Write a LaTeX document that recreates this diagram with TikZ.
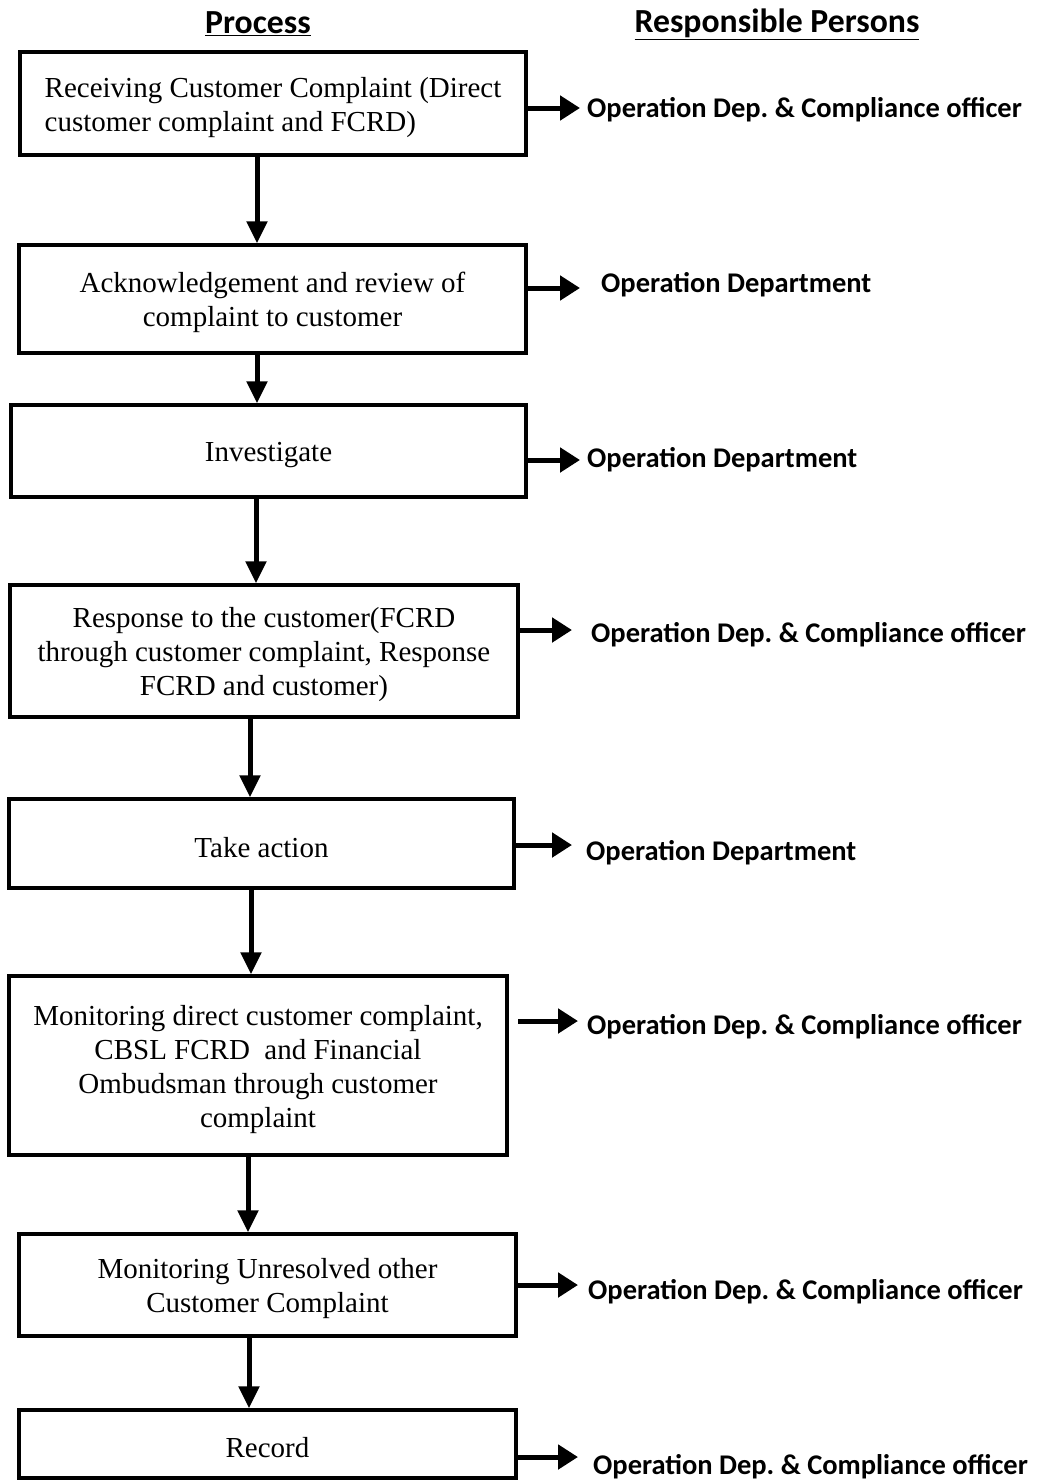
\documentclass[tikz,border=0pt]{standalone}
\usepackage{fontspec}
\setmainfont{Liberation Serif}
\newfontfamily\calib{Carlito}
\usetikzlibrary{arrows.meta}
\newcommand\tstrut{\rule{0pt}{28pt}}
\begin{document}
\begin{tikzpicture}[x=1pt,y=-1pt,
  procbox/.style={draw, line width=3.5pt, align=center, inner sep=0pt,
    font=\fontsize{29}{34}\selectfont},
  lab/.style={anchor=west, inner sep=0pt, font=\calib\bfseries\fontsize{28.5}{32}\selectfont},
  head/.style={inner sep=0pt, font=\calib\bfseries\fontsize{33.7}{38}\selectfont},
  darr/.style={line width=5pt, -{Triangle[length=22pt,width=20pt]}},
  rarr/.style={line width=5pt, -{Triangle[length=20pt,width=24pt]}}
]
\useasboundingbox (0,0) rectangle (1037,1480);

\node[head] (h1) at (258,24) {\underline{Process}};
\node[head] (h2) at (777,24) {\underline{Responsible Persons}};

\node[procbox, align=left, minimum width=506pt, minimum height=103pt] (b1) at (273,103.5)
  {\tstrut Receiving Customer Complaint (Direct\\customer complaint and FCRD)};
\node[procbox, minimum width=507pt, minimum height=108pt] (b2) at (272.5,299)
  {\tstrut Acknowledgement and review of\\complaint to customer};
\node[procbox, minimum width=515pt, minimum height=92pt] (b3) at (268.5,451)
  {\tstrut Investigate};
\node[procbox, minimum width=508pt, minimum height=132pt] (b4) at (264,651)
  {\tstrut Response to the customer(FCRD\\through customer complaint, Response\\FCRD and customer)};
\node[procbox, minimum width=505pt, minimum height=89pt] (b5) at (261.5,843.5)
  {\tstrut Take action};
\node[procbox, minimum width=498pt, minimum height=179pt] (b6) at (258,1065.5)
  {\tstrut Monitoring direct customer complaint,\\CBSL FCRD\ \ and Financial\\Ombudsman through customer\\complaint};
\node[procbox, minimum width=497pt, minimum height=102pt] (b7) at (267.5,1285)
  {\tstrut Monitoring Unresolved other\\Customer Complaint};
\node[procbox, minimum width=497pt, minimum height=68pt] (b8) at (267.5,1444)
  {\tstrut Record};

% down arrows
\coordinate (d1) at (257,0);
\coordinate (d2) at (257,0);
\coordinate (d3) at (256,0);
\coordinate (d4) at (250,0);
\coordinate (d5) at (251,0);
\coordinate (d6) at (248,0);
\coordinate (d7) at (249,0);
\draw[darr] (b1.south -| d1) -- (b2.north -| d1);
\draw[darr] (b2.south -| d2) -- (b3.north -| d2);
\draw[darr] (b3.south -| d3) -- (b4.north -| d3);
\draw[darr] (b4.south -| d4) -- (b5.north -| d4);
\draw[darr] (b5.south -| d5) -- (b6.north -| d5);
\draw[darr] (b6.south -| d6) -- (b7.north -| d6);
\draw[darr] (b7.south -| d7) -- (b8.north -| d7);

% labels
\node[lab] (l1) at (587,110) {Operation Dep.\ \& Compliance officer};
\node[lab] (l2) at (601,285) {Operation Department};
\node[lab] (l3) at (587,460) {Operation Department};
\node[lab] (l4) at (591,635) {Operation Dep.\ \& Compliance officer};
\node[lab] (l5) at (586,853) {Operation Department};
\node[lab] (l6) at (587,1027) {Operation Dep.\ \& Compliance officer};
\node[lab] (l7) at (588,1292) {Operation Dep.\ \& Compliance officer};
\node[lab] (l8) at (593,1467) {Operation Dep.\ \& Compliance officer};

% right arrows
\coordinate (a1) at (580,108);
\coordinate (a2) at (580,288);
\coordinate (a3) at (580,460);
\coordinate (a4) at (572,630);
\coordinate (a5) at (572,845);
\coordinate (s6) at (518,1021);
\coordinate (a6) at (578,1021);
\coordinate (a7) at (578,1285);
\coordinate (a8) at (578,1457);
\draw[rarr] (b1.east |- a1) -- (a1);
\draw[rarr] (b2.east |- a2) -- (a2);
\draw[rarr] (b3.east |- a3) -- (a3);
\draw[rarr] (b4.east |- a4) -- (a4);
\draw[rarr] (b5.east |- a5) -- (a5);
\draw[rarr] (s6) -- (a6);
\draw[rarr] (b7.east |- a7) -- (a7);
\draw[rarr] (b8.east |- a8) -- (a8);
\end{tikzpicture}
\end{document}
